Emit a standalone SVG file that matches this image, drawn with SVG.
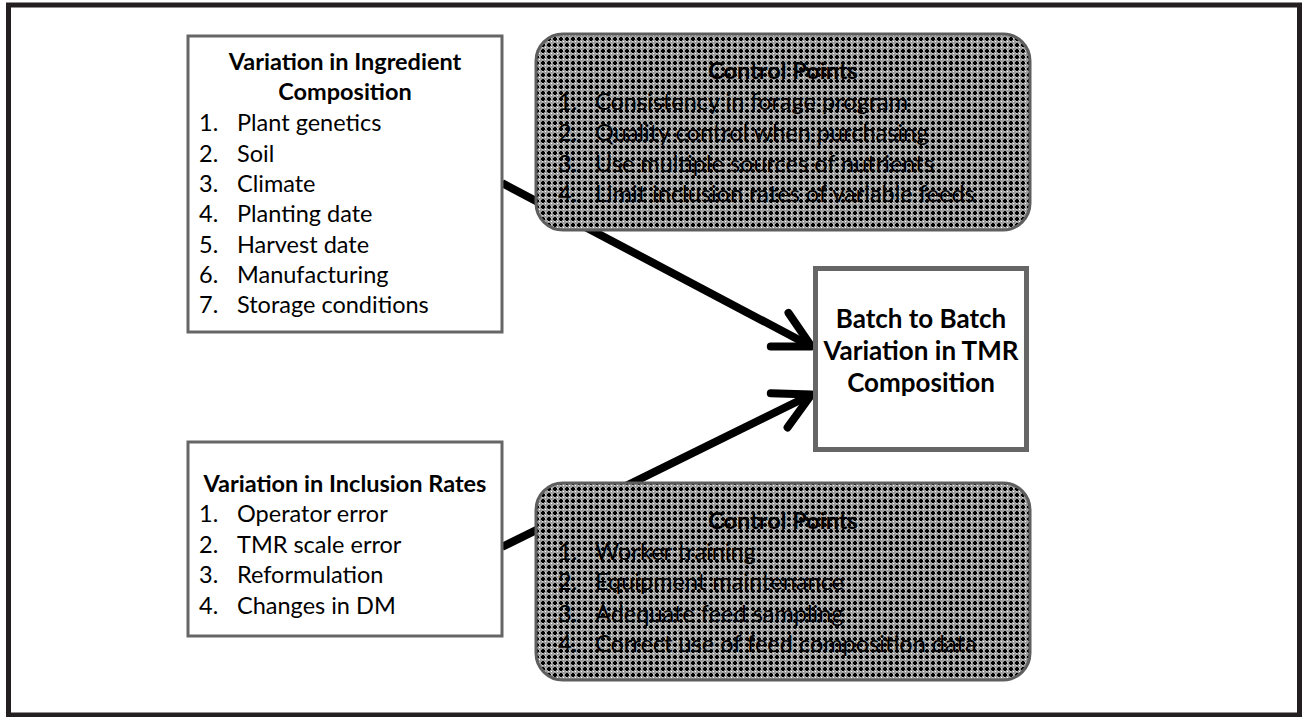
<svg xmlns="http://www.w3.org/2000/svg" width="1303" height="717" viewBox="0 0 1303 717">
<style>
.t{font-family:Lato,"Liberation Sans",sans-serif;font-size:23.5px;fill:#000}
.b{font-weight:bold}
.c{text-anchor:middle}
.big{font-size:26px}
.box{fill:#fff;stroke:#666;stroke-width:3}
.cp{fill:url(#dots);stroke:#5e5e5e;stroke-width:3}
.arr{fill:none;stroke:#000;stroke-width:8;marker-end:url(#chev)}
</style>
<defs>
<pattern id="dots" patternUnits="userSpaceOnUse" width="6" height="6">
<rect width="6" height="6" fill="#9c9c9c"/>
<rect x="2" y="1" width="2" height="4" fill="#000"/>
<rect x="1" y="2" width="4" height="2" fill="#000"/>
<rect x="5" y="5" width="1" height="1" fill="#fff"/>
<rect x="5" y="2" width="1" height="1" fill="#d8d8d8"/>
<rect x="2" y="5" width="1" height="1" fill="#d8d8d8"/>
</pattern>
<marker id="chev" markerUnits="userSpaceOnUse" orient="auto" overflow="visible" refX="0" refY="0" markerWidth="1" markerHeight="1">
<path d="M-36,-19 L0,0 L-36,19" fill="none" stroke="#000" stroke-width="8" stroke-linecap="round" stroke-linejoin="round"/>
</marker>
</defs>
<rect x="8.5" y="5" width="1291" height="710" fill="#fff" stroke="#231f20" stroke-width="5"/>
<g id="connectors">
<path class="arr" d="M502,183 L811.5,346.5"/>
<path class="arr" d="M502,547 L811.5,394.5"/>
</g>
<g id="ingredient">
<rect class="box" x="188" y="36" width="314" height="296"/>
<text class="t b c" x="345" y="70">Variation in Ingredient</text>
<text class="t b c" x="345" y="100">Composition</text>
<text class="t" x="199" y="131">1.</text><text class="t" x="237" y="131">Plant genetics</text>
<text class="t" x="199" y="161.5">2.</text><text class="t" x="237" y="161.5">Soil</text>
<text class="t" x="199" y="192">3.</text><text class="t" x="237" y="192">Climate</text>
<text class="t" x="199" y="222">4.</text><text class="t" x="237" y="222">Planting date</text>
<text class="t" x="199" y="252.5">5.</text><text class="t" x="237" y="252.5">Harvest date</text>
<text class="t" x="199" y="283">6.</text><text class="t" x="237" y="283">Manufacturing</text>
<text class="t" x="199" y="313">7.</text><text class="t" x="237" y="313">Storage conditions</text>
</g>
<g id="inclusion">
<rect class="box" x="188" y="442" width="314" height="194"/>
<text class="t b c" x="345" y="492">Variation in Inclusion Rates</text>
<text class="t" x="199" y="522">1.</text><text class="t" x="237" y="522">Operator error</text>
<text class="t" x="199" y="553">2.</text><text class="t" x="237" y="553">TMR scale error</text>
<text class="t" x="199" y="583">3.</text><text class="t" x="237" y="583">Reformulation</text>
<text class="t" x="199" y="614">4.</text><text class="t" x="237" y="614">Changes in DM</text>
</g>
<g id="tmr">
<rect x="815.5" y="268.5" width="211" height="181" fill="#fff" stroke="#666" stroke-width="5"/>
<text class="t b c big" x="921" y="328">Batch to Batch</text>
<text class="t b c big" x="921" y="360">Variation in TMR</text>
<text class="t b c big" x="921" y="392">Composition</text>
</g>
<g id="control-top">
<rect class="cp" x="536" y="34" width="494" height="196" rx="27"/>
<text class="t b c" x="783" y="79">Control Points</text>
<text class="t" x="558" y="110">1.</text><text class="t" x="595" y="110">Consistency in forage program</text>
<text class="t" x="558" y="141">2.</text><text class="t" x="595" y="141">Quality control when purchasing</text>
<text class="t" x="558" y="172">3.</text><text class="t" x="595" y="172">Use multiple sources of nutrients</text>
<text class="t" x="558" y="202">4.</text><text class="t" x="595" y="202">Limit inclusion rates of variable feeds</text>
</g>
<g id="control-bottom">
<rect class="cp" x="536" y="483" width="494" height="197" rx="27"/>
<text class="t b c" x="783" y="529">Control Points</text>
<text class="t" x="558" y="560">1.</text><text class="t" x="595" y="560">Worker training</text>
<text class="t" x="558" y="590">2.</text><text class="t" x="595" y="590">Equipment maintenance</text>
<text class="t" x="558" y="622">3.</text><text class="t" x="595" y="622">Adequate feed sampling</text>
<text class="t" x="558" y="652">4.</text><text class="t" x="595" y="652">Correct use of feed composition data</text>
</g>
</svg>
